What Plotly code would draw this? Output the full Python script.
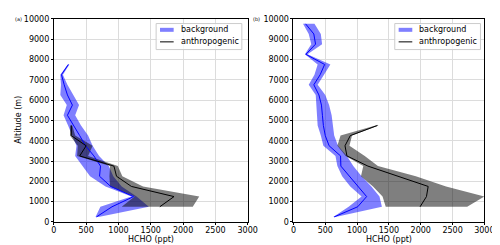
import plotly.graph_objects as go

# ---------- data ----------
# Panel (a)
alt_a_bg = [250, 750, 1250, 1750, 2250, 2750, 3250, 3750, 4250, 4750, 5250, 5750, 6250, 6750, 7250, 7750]
bg_a_mean = [660, 900, 1234, 880, 707, 722, 620, 490, 400, 310, 210, 287, 210, 160, 118, 225]
bg_a_lo = [645, 720, 1200, 800, 560, 450, 330, 350, 290, 220, 150, 200, 100, 110, 100, 215]
bg_a_hi = [690, 1470, 1280, 1050, 920, 850, 700, 600, 530, 420, 330, 390, 300, 210, 140, 240]

alt_a_an = [750, 1250, 1750, 2250, 2750, 3250, 3750, 4250, 4750]
an_a_mean = [1640, 1860, 1200, 970, 930, 400, 500, 270, 270]
an_a_lo = [1050, 1250, 870, 860, 870, 360, 370, 250, 255]
an_a_hi = [2150, 2250, 1380, 1060, 990, 530, 600, 330, 285]

# Panel (b)
alt_b_bg = [250, 750, 1250, 1750, 2250, 2750, 3250, 3750, 4250, 4750, 5250, 5750, 6250, 6750, 7250, 7750, 8250, 8750, 9250, 9750]
bg_b_mean = [640, 1010, 1150, 1010, 870, 745, 740, 560, 500, 470, 455, 440, 400, 320, 420, 490, 195, 347, 320, 190]
bg_b_lo = [625, 867, 1071, 893, 765, 690, 660, 470, 430, 380, 370, 360, 350, 240, 330, 380, 180, 280, 240, 150]
bg_b_hi = [660, 1390, 1352, 1224, 1071, 940, 840, 700, 640, 620, 600, 560, 500, 380, 480, 580, 220, 450, 430, 330]

alt_b_an = [750, 1250, 1750, 2250, 2750, 3250, 3750, 4250, 4750]
an_b_mean = [1990, 2090, 2117, 1630, 1170, 840, 810, 893, 1320]
an_b_lo = [1450, 1400, 1250, 1061, 1097, 820, 690, 740, 1290]
an_b_hi = [2730, 3000, 2398, 1923, 1327, 1120, 880, 920, 1340]

x_ticks = [0, 500, 1000, 1500, 2000, 2500, 3000]
y_ticks = [0, 1000, 2000, 3000, 4000, 5000, 6000, 7000, 8000, 9000, 10000]
y_tick_labels = [str(v) for v in y_ticks]
x_tick_labels = [str(v) for v in x_ticks]

BLUE_FILL = "rgba(0,0,255,0.5)"
GREY_FILL = "rgba(0,0,0,0.5)"

fig = go.Figure()


def band(alt, lo, hi, color, xa, ya):
    return go.Scatter(
        x=list(lo) + list(hi)[::-1], y=list(alt) + list(alt)[::-1],
        fill="toself", fillcolor=color, line=dict(width=0),
        mode="lines", showlegend=False, hoverinfo="skip", xaxis=xa, yaxis=ya)


def line(alt, mean, color, xa, ya):
    return go.Scatter(x=mean, y=alt, mode="lines", line=dict(color=color, width=1),
                      showlegend=False, xaxis=xa, yaxis=ya)


for (xa, ya, abg, bm, bl, bh, aan, am, al, ah) in [
    ("x", "y", alt_a_bg, bg_a_mean, bg_a_lo, bg_a_hi, alt_a_an, an_a_mean, an_a_lo, an_a_hi),
    ("x2", "y2", alt_b_bg, bg_b_mean, bg_b_lo, bg_b_hi, alt_b_an, an_b_mean, an_b_lo, an_b_hi),
]:
    fig.add_trace(band(abg, bl, bh, BLUE_FILL, xa, ya))
    fig.add_trace(band(aan, al, ah, GREY_FILL, xa, ya))
    fig.add_trace(line(abg, bm, "#0000ff", xa, ya))
    fig.add_trace(line(aan, am, "black", xa, ya))

font = dict(family="DejaVu Sans", size=8, color="black")

axis_common = dict(
    showline=True, linecolor="black", linewidth=1, mirror=True,
    showgrid=True, gridcolor="#dcdcdc", gridwidth=1,
    ticks="outside", ticklen=2, tickwidth=1, tickcolor="black",
    zeroline=False, tickfont=font,
)

xd1 = [44 / 500, 243 / 500]
xd2 = [290 / 500, 486 / 500]
yd = [1 - 218 / 245, 1 - 7 / 245]

fig.update_layout(
    width=500, height=245,
    margin=dict(l=0, r=0, t=0, b=0),
    paper_bgcolor="white", plot_bgcolor="white",
    font=font,
    showlegend=False,
    xaxis=dict(domain=xd1, range=[0, 3000], tickvals=x_ticks, ticktext=x_tick_labels,
               anchor="y", ticklabelstandoff=-2, **axis_common),
    yaxis=dict(domain=yd, range=[0, 10000], tickvals=y_ticks, ticktext=y_tick_labels, anchor="x",
               **axis_common),
    xaxis2=dict(domain=xd2, range=[0, 3000], tickvals=x_ticks, ticktext=x_tick_labels,
                anchor="y2", ticklabelstandoff=-2, **axis_common),
    yaxis2=dict(domain=yd, range=[0, 10000], tickvals=y_ticks, ticktext=y_tick_labels,
                anchor="x2", **axis_common),
)

# axis titles as annotations
for xc in [(44 + 243) / 2, (290 + 486) / 2]:
    fig.add_annotation(text="HCHO (ppt)", xref="paper", yref="paper",
                       x=xc / 500, y=1 - 236 / 245, xanchor="center", yanchor="middle",
                       showarrow=False, font=font)
fig.add_annotation(text="Altitude (m)", xref="paper", yref="paper", textangle=-90,
                   x=8 / 500, y=1 - 112 / 245, xanchor="center", yanchor="middle",
                   showarrow=False, font=font)

# legends (drawn as annotations + shapes in paper coordinates)
for (x0, x1) in [(149, 237), (394, 482)]:
    fig.add_shape(type="rect", xref="paper", yref="paper",
                  x0=x0 / 500, x1=x1 / 500, y0=1 - 39 / 245, y1=1 - 12 / 245,
                  line=dict(color="#cccccc", width=1), fillcolor="rgba(255,255,255,0.8)")
    fig.add_shape(type="line", xref="paper", yref="paper",
                  x0=(x0 + 4) / 500, x1=(x0 + 18) / 500, y0=1 - 18.5 / 245, y1=1 - 18.5 / 245,
                  line=dict(color=BLUE_FILL, width=4))
    fig.add_shape(type="line", xref="paper", yref="paper",
                  x0=(x0 + 4) / 500, x1=(x0 + 18) / 500, y0=1 - 31 / 245, y1=1 - 31 / 245,
                  line=dict(color="black", width=1))
    fig.add_annotation(text="background", xref="paper", yref="paper",
                       x=(x0 + 23) / 500, y=1 - 18.5 / 245, xanchor="left", yanchor="middle",
                       showarrow=False, font=font)
    fig.add_annotation(text="anthropogenic", xref="paper", yref="paper",
                       x=(x0 + 23) / 500, y=1 - 31 / 245, xanchor="left", yanchor="middle",
                       showarrow=False, font=font)

small = dict(family="DejaVu Sans", size=5, color="black")
fig.add_annotation(text="(a)", xref="paper", yref="paper", x=2 / 500, y=1 - 7 / 245,
                   xanchor="left", yanchor="middle", showarrow=False, font=small)
fig.add_annotation(text="(b)", xref="paper", yref="paper", x=246 / 500, y=1 - 7 / 245,
                   xanchor="left", yanchor="middle", showarrow=False, font=small)

fig.write_html("out.html")
